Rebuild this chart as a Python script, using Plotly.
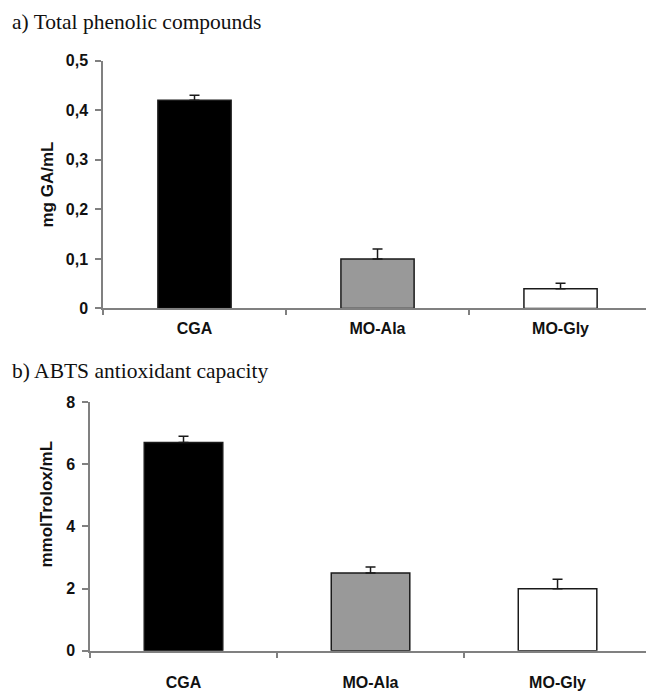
import plotly.graph_objects as go

W, H = 646, 694

categories = ["CGA", "MO-Ala", "MO-Gly"]
phenolic_values = [0.42, 0.10, 0.04]
phenolic_errors = [0.01, 0.02, 0.011]
abts_values = [6.7, 2.5, 2.0]
abts_errors = [0.2, 0.2, 0.3]
bar_colors = ["#000000", "#999999", "#ffffff"]
panel_titles = ["a) Total phenolic compounds", "b) ABTS antioxidant capacity"]
y_titles = ["mg GA/mL", "mmolTrolox/mL"]
y_ticks_a = [0, 0.1, 0.2, 0.3, 0.4, 0.5]
y_ticks_b = [0, 2, 4, 6, 8]

def px_x(v):
    return v / W

def px_y(v):
    return 1 - v / H

fig = go.Figure()

fig.add_trace(go.Bar(
    x=categories, y=phenolic_values, width=0.40,
    marker=dict(color=bar_colors, line=dict(color="#1a1a1a", width=1.5)),
    error_y=dict(type="data", symmetric=False, array=phenolic_errors,
                 arrayminus=[0, 0, 0], color="#1a1a1a", thickness=1.5, width=5),
    xaxis="x", yaxis="y", showlegend=False,
))
fig.add_trace(go.Bar(
    x=categories, y=abts_values, width=0.42,
    marker=dict(color=bar_colors, line=dict(color="#1a1a1a", width=1.5)),
    error_y=dict(type="data", symmetric=False, array=abts_errors,
                 arrayminus=[0, 0, 0], color="#1a1a1a", thickness=1.5, width=5),
    xaxis="x2", yaxis="y2", showlegend=False,
))

tick_font = dict(family="Liberation Sans, Arial", size=16, color="#111111", weight="bold")
xtick_font = dict(family="Liberation Sans, Arial", size=16, color="#111111", weight="bold")
axis_col = "#808080"

common_x = dict(type="category", showline=True, linecolor=axis_col, linewidth=1.5,
                ticks="outside", tickson="boundaries", ticklen=5, tickcolor=axis_col,
                tickwidth=1.5, showgrid=False, zeroline=False, tickfont=xtick_font,
                fixedrange=True)
common_y = dict(showline=True, linecolor=axis_col, linewidth=1.5, ticks="outside",
                ticklen=6, tickcolor=axis_col, tickwidth=1.5, showgrid=False,
                zeroline=False, tickfont=tick_font, ticklabelstandoff=4)

fig.update_layout(
    width=W, height=H,
    margin=dict(l=0, r=0, t=0, b=0),
    paper_bgcolor="white", plot_bgcolor="white",
    separators=",.",
    xaxis=dict(common_x, domain=[px_x(103), 1], range=[-0.5, 2.467], anchor="y",
               ticklabelstandoff=5),
    yaxis=dict(common_y, domain=[px_y(308), px_y(54)], range=[0, 0.5],
               tickvals=y_ticks_a, anchor="x"),
    xaxis2=dict(common_x, domain=[px_x(90), 1], range=[-0.5, 2.473], anchor="y2",
                ticklabelstandoff=16),
    yaxis2=dict(common_y, domain=[px_y(659), px_y(404)], range=[0, 8],
                tickvals=y_ticks_b, anchor="x2"),
)

title_font = dict(family="Liberation Serif, Times New Roman", size=21.5, color="#111111")
fig.add_annotation(text=panel_titles[0], x=px_x(10), y=px_y(29), xref="paper", yref="paper",
                   xanchor="left", yanchor="bottom", showarrow=False, font=title_font)
fig.add_annotation(text=panel_titles[1], x=px_x(10), y=px_y(386), xref="paper", yref="paper",
                   xanchor="left", yanchor="bottom", showarrow=False, font=title_font)

ytitle_font = dict(family="Liberation Sans, Arial", size=17, color="#111111", weight="bold")
fig.add_annotation(text=y_titles[0], x=px_x(48), y=px_y(181), xref="paper", yref="paper",
                   xanchor="center", yanchor="middle", showarrow=False, textangle=-90,
                   font=ytitle_font)
fig.add_annotation(text=y_titles[1], x=px_x(47), y=px_y(508), xref="paper", yref="paper",
                   xanchor="center", yanchor="middle", showarrow=False, textangle=-90,
                   font=ytitle_font)

fig.write_html("out.html", config={"displayModeBar": False},
               post_script="document.body.style.margin='0';document.body.style.overflow='hidden';")
